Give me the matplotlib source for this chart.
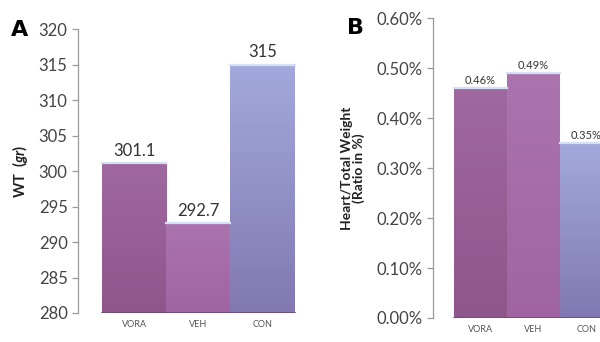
import matplotlib
matplotlib.use('Agg')
import matplotlib.pyplot as plt
import numpy as np
from matplotlib.colors import LinearSegmentedColormap

# data
groups = ['VORA', 'VEH', 'CON']
wt = [301.1, 292.7, 315]
wt_labels = ['301.1', '292.7', '315']
ratio = [0.46, 0.49, 0.35]
ratio_labels = ['0.46%', '0.49%', '0.35%']

# top / bottom colour of each bar
bar_top = ['#9f689e', '#ab74ae', '#a3a9dc']
bar_bot = ['#8f568c', '#a064a3', '#8279b2']

plt.rcParams['font.family'] = ['Lato', 'DejaVu Sans']
plt.rcParams['mathtext.fontset'] = 'custom'
plt.rcParams['mathtext.bfit'] = 'Lato:bold:italic'
tick_grey = '#444444'


def draw_bars(ax, values, labels, ymin, label_size, label_pad):
    bars = ax.bar(range(len(values)), [v - ymin for v in values], width=1.0,
                  bottom=ymin, color=bar_bot, edgecolor='none', zorder=1)
    for i, b in enumerate(bars):
        x0, w, h = b.get_x(), b.get_width(), b.get_height()
        cmap = LinearSegmentedColormap.from_list('g', [bar_bot[i], bar_top[i]])
        grad = np.linspace(0, 1, 64).reshape(-1, 1)
        ax.imshow(grad, cmap=cmap, aspect='auto', origin='lower',
                  extent=(x0, x0 + w, ymin, ymin + h), zorder=2)
        # light rim along the top, darker line at the base
        ax.plot([x0, x0 + w], [ymin + h, ymin + h], color='#d4e0f4', lw=1.6, zorder=3)
        ax.plot([x0, x0 + w], [ymin, ymin], color='#6a4a78', lw=1.2, zorder=3)
        ax.text(x0 + w / 2, ymin + h + label_pad, labels[i], ha='center', va='bottom',
                fontsize=label_size, color='#333333', zorder=4)


def style_axis(ax):
    for s in ['top', 'right', 'bottom']:
        ax.spines[s].set_visible(False)
    ax.spines['left'].set_color('#9a9a9a')
    ax.spines['left'].set_linewidth(0.9)
    ax.tick_params(axis='y', colors='#9a9a9a', labelcolor=tick_grey, labelsize=12,
                   length=4, width=0.9, direction='out')
    ax.tick_params(axis='x', length=0, labelsize=6.5, labelcolor='#555555', pad=5)
    ax.set_xticks(range(len(groups)))
    ax.set_xticklabels(groups)


fig = plt.figure(figsize=(6.0, 3.42), dpi=100)

# panel A
ax1 = fig.add_axes([0.130, 0.0848, 0.378, 0.830])
draw_bars(ax1, wt, wt_labels, 280, 12, 0.6)
ax1.set_ylim(280, 320)
ax1.set_yticks(np.arange(280, 321, 5))
ax1.set_xlim(-0.873, 2.66)
style_axis(ax1)
ax1.set_ylabel(r'WT  ($\mathbfit{gr}$)', fontsize=10.5, fontweight='bold',
               color='#222222', labelpad=6)
fig.text(0.018, 0.895, 'A', fontsize=16, fontweight='bold', family='DejaVu Sans')

# panel B
ax2 = fig.add_axes([0.7217, 0.0702, 0.2783, 0.877])
draw_bars(ax2, ratio, ratio_labels, 0, 8, 0.004)
ax2.set_ylim(0, 0.60)
ax2.set_yticks(np.arange(0, 0.61, 0.10))
ax2.set_yticklabels(['%.2f%%' % v for v in np.arange(0, 0.61, 0.10)])
ax2.set_xlim(-0.896, 2.255)
style_axis(ax2)
ax2.set_ylabel('Heart/Total Weight\n(Ratio in %)', fontsize=10, fontweight='bold',
               color='#222222', labelpad=8, linespacing=1.0)
fig.text(0.578, 0.90, 'B', fontsize=16, fontweight='bold', family='DejaVu Sans')

fig.savefig('out.png', dpi=100)
